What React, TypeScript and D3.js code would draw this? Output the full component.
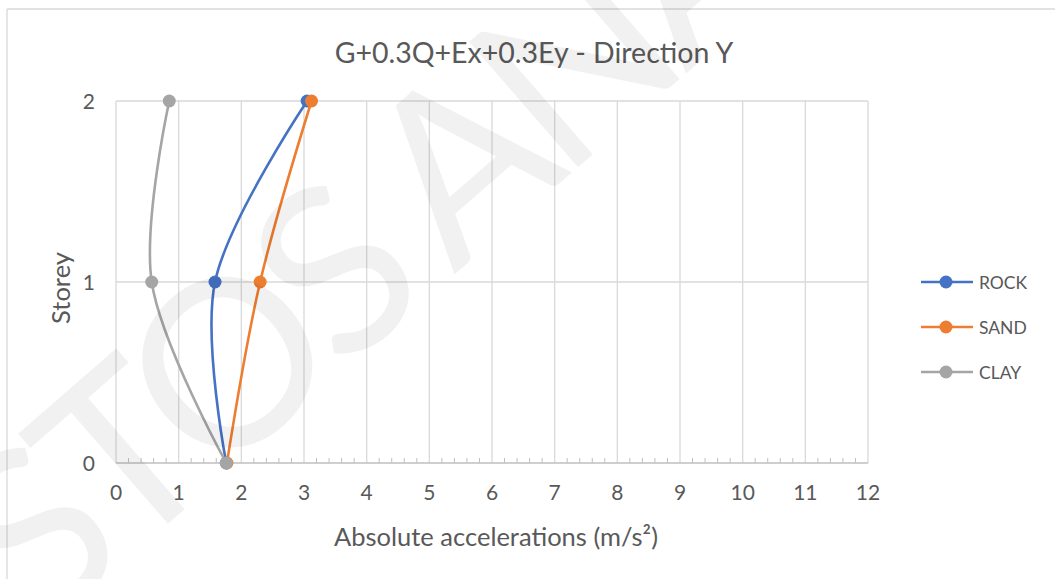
import React from "react";
import * as d3 from "d3";

// Storey levels and absolute accelerations (m/s²) per soil type
const storeys = [0, 1, 2];
const rock = [1.76, 1.58, 3.05];
const sand = [1.77, 2.3, 3.12];
const clay = [1.76, 0.57, 0.85];

const seriesNames = ["ROCK", "SAND", "CLAY"];
const seriesColors = ["#4472c4", "#ed7d31", "#a5a5a5"];
const seriesValues = [rock, sand, clay];

const xTicks = [0, 1, 2, 3, 4, 5, 6, 7, 8, 9, 10, 11, 12];
const yTicks = [0, 1, 2];

const title = "G+0.3Q+Ex+0.3Ey - Direction Y";
const xTitle = "Absolute accelerations (m/s²)";
const yTitle = "Storey";
const watermark = "STOS ANA";

const W = 1055;
const H = 579;
const FONT = "Lato, 'Open Sans', sans-serif";
const TEXT = "#595959";
const GRID = "#d9d9d9";

export default function App() {
  const x = d3.scaleLinear().domain([0, 12]).range([116, 868]);
  const y = d3.scaleLinear().domain([0, 2]).range([463, 101]);

  const line = d3
    .line<[number, number]>()
    .x((d) => x(d[0]))
    .y((d) => y(d[1]))
    .curve(d3.curveCatmullRom.alpha(0.5));

  const minorTicks = d3.range(0, 12.0001, 0.2).filter((v) => Math.abs(v - Math.round(v)) > 1e-6);

  return (
    <svg
      width={W}
      height={H}
      style={{ position: "absolute", left: 0, top: 0, background: "#fff" }}
      fontFamily={FONT}
    >
      {/* chart frame */}
      <line x1={7} y1={9} x2={W} y2={9} stroke={GRID} strokeWidth={1.3} />
      <line x1={7} y1={9} x2={7} y2={H} stroke={GRID} strokeWidth={1.3} />

      <text x={534} y={63} textAnchor="middle" fontSize={28.5} fill={TEXT}>
        {title}
      </text>

      {/* grid */}
      {xTicks.map((t) => (
        <line key={"gx" + t} x1={x(t)} x2={x(t)} y1={y(2)} y2={y(0)} stroke={GRID} strokeWidth={1.3} />
      ))}
      {yTicks.filter((t) => t > 0).map((t) => (
        <line key={"gy" + t} x1={x(0)} x2={x(12)} y1={y(t)} y2={y(t)} stroke={GRID} strokeWidth={1.3} />
      ))}

      {/* x axis */}
      <line x1={x(0)} x2={x(12)} y1={y(0)} y2={y(0)} stroke="#bfbfbf" strokeWidth={1.3} />
      {minorTicks.map((t, i) => (
        <line key={"mt" + i} x1={x(t)} x2={x(t)} y1={y(0)} y2={y(0) - 5} stroke="#bfbfbf" strokeWidth={1} />
      ))}
      {xTicks.map((t) => (
        <text key={"xl" + t} x={x(t)} y={y(0) + 37} textAnchor="middle" fontSize={21} fill={TEXT}>
          {t}
        </text>
      ))}
      {yTicks.map((t) => (
        <text key={"yl" + t} x={95} y={y(t) + 8} textAnchor="end" fontSize={21} fill={TEXT}>
          {t}
        </text>
      ))}

      <text x={496} y={546} textAnchor="middle" fontSize={25.5} fill={TEXT}>
        {xTitle}
      </text>
      <text
        transform={`translate(70,288) rotate(-90)`}
        textAnchor="middle"
        fontSize={25.5}
        fill={TEXT}
      >
        {yTitle}
      </text>

      {/* series */}
      {seriesValues.map((vals, si) => {
        const pts = vals.map((v, i) => [v, storeys[i]] as [number, number]);
        return (
          <g key={seriesNames[si]}>
            <path d={line(pts) || ""} fill="none" stroke={seriesColors[si]} strokeWidth={2.6} />
            {pts.map((p, i) => (
              <circle key={i} cx={x(p[0])} cy={y(p[1])} r={6.5} fill={seriesColors[si]} />
            ))}
          </g>
        );
      })}

      {/* legend */}
      {seriesNames.map((name, i) => {
        const ly = 282 + i * 45;
        return (
          <g key={"lg" + name}>
            <line x1={921} x2={973} y1={ly} y2={ly} stroke={seriesColors[i]} strokeWidth={2.6} />
            <circle cx={946} cy={ly} r={6.5} fill={seriesColors[i]} />
            <text x={979} y={ly + 7} fontSize={17.5} fill={TEXT}>
              {name}
            </text>
          </g>
        );
      })}

      {/* watermark */}
      <text
        transform="translate(40,635) rotate(-41)"
        fontSize={232}
        fill="#000"
        fillOpacity={0.055}
        letterSpacing={-14}
      >
        {watermark}
      </text>
    </svg>
  );
}
